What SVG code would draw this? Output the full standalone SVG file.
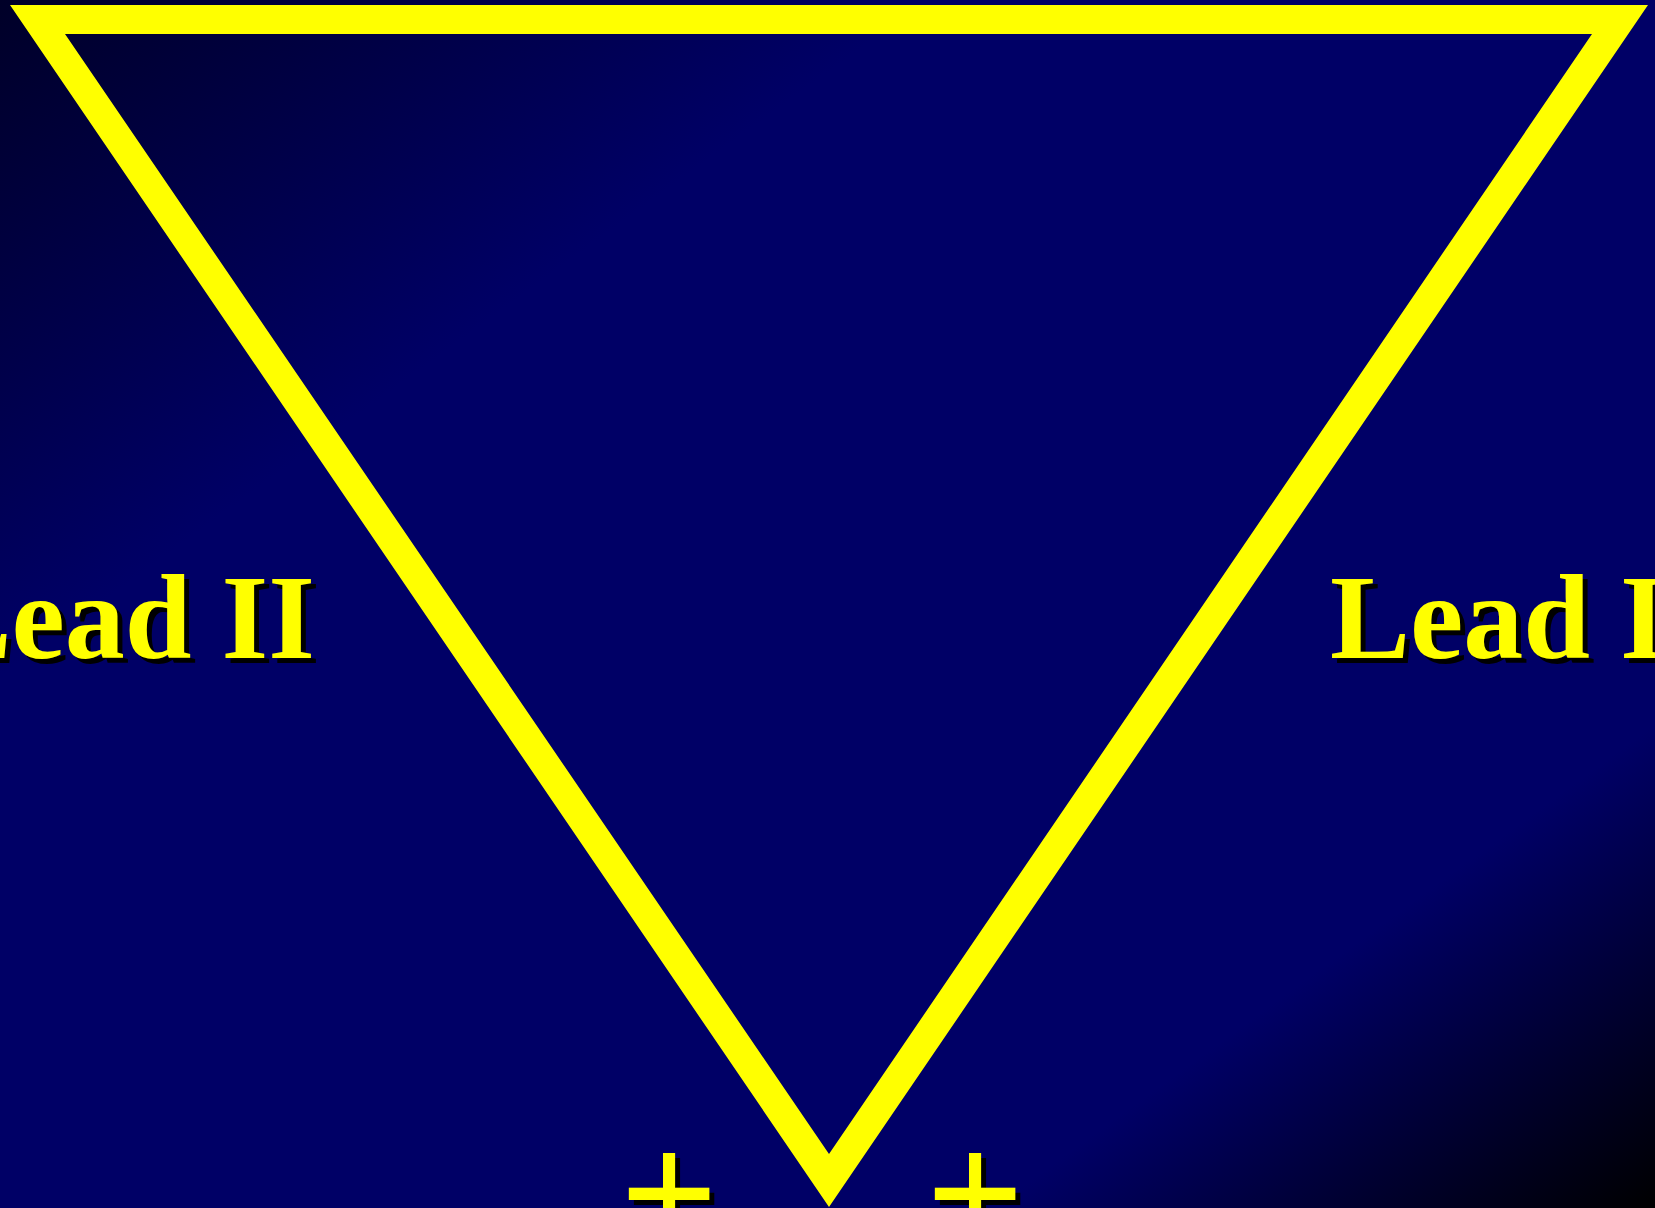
<svg xmlns="http://www.w3.org/2000/svg" width="1655" height="1208" viewBox="0 0 1655 1208">
  <defs>
    <linearGradient id="bg" x1="0" y1="0" x2="1" y2="1">
      <stop offset="0" stop-color="#000028"/>
      <stop offset="0.28" stop-color="#000066"/>
      <stop offset="0.8" stop-color="#000066"/>
      <stop offset="1" stop-color="#000000"/>
    </linearGradient>
    <style>
      text { font-family: 'Liberation Serif', serif; font-weight: 700; }
      .lbl { font-size: 120px; }
      .plus { font-size: 173px; text-anchor: middle; }
      .fg { fill: #ffff00; }
      .sh { fill: #000000; }
    </style>
  </defs>
  <rect x="0" y="0" width="1655" height="1208" fill="url(#bg)"/>
  <g id="triangle">
    <path d="M10,5 L1648,5 L829,1207 Z M65,34 L829,1154 L1592,34 Z" fill="#ffff00" fill-rule="evenodd"/>
  </g>
  <g id="label-left">
    <text class="lbl sh" x="320" y="663" text-anchor="end">Lead II</text>
    <text class="lbl fg" x="315" y="658" text-anchor="end">Lead II</text>
  </g>
  <g id="label-right">
    <text class="lbl sh" x="1335" y="663">Lead I</text>
    <text class="lbl fg" x="1330" y="658">Lead I</text>
  </g>
  <g id="plus-left">
    <text class="plus sh" x="674" y="1256">+</text>
    <text class="plus fg" x="669" y="1251">+</text>
  </g>
  <g id="plus-right">
    <text class="plus sh" x="980" y="1256">+</text>
    <text class="plus fg" x="975" y="1251">+</text>
  </g>
  <g id="connectors"></g>
</svg>
